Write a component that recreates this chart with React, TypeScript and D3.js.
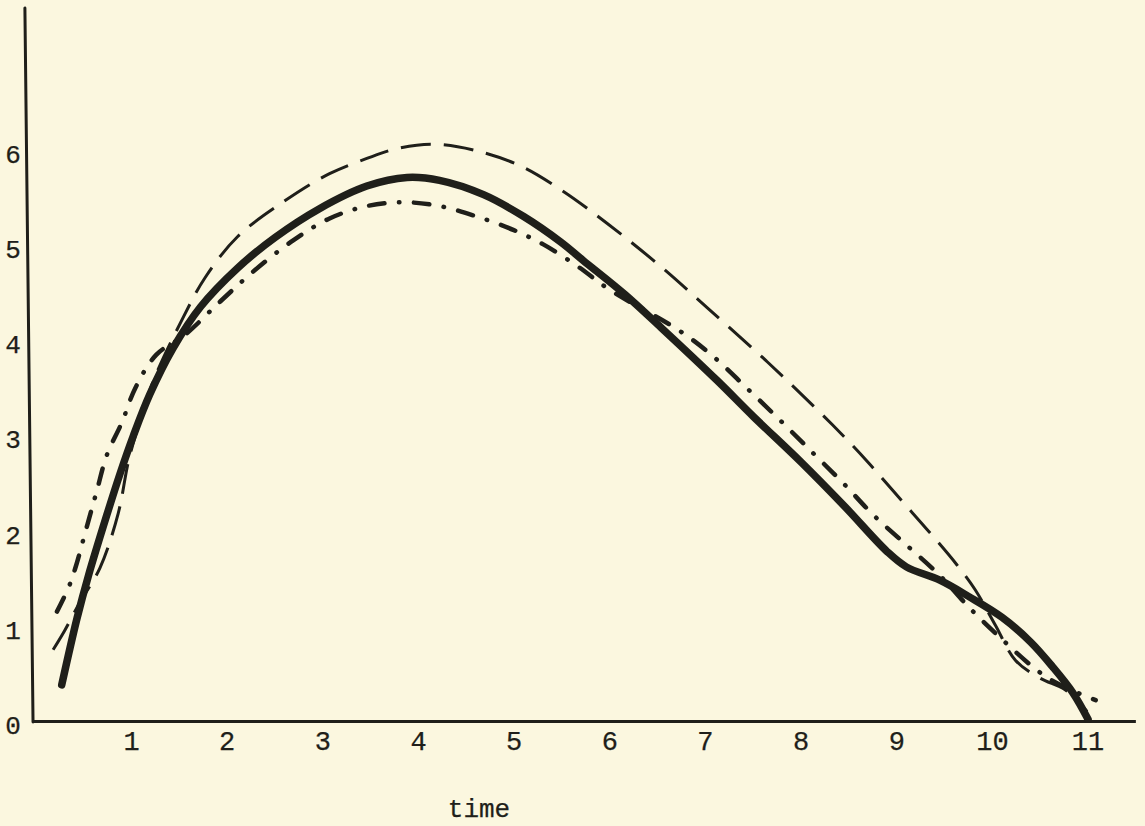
import React from "react";
import * as d3 from "d3";

const W = 1145;
const H = 826;

// tick labels
const xTicks = [1, 2, 3, 4, 5, 6, 7, 8, 9, 10, 11];
const yTicks = [0, 1, 2, 3, 4, 5, 6];
const xTitle = "time";

// solid (thick) curve
const solidT = [0.27, 0.43, 0.55, 0.74, 0.88, 1.02, 1.19, 1.43, 1.72, 2.11, 2.5, 2.96, 3.46, 3.88, 4.22, 4.68, 5.1, 5.49, 5.72, 6.16, 6.54, 7.12, 7.5, 8.0, 8.46, 8.9, 9.1, 9.45, 9.75, 10.1, 10.4, 10.63, 10.84, 11.0];
const solidV = [0.4, 1.1, 1.55, 2.18, 2.62, 3.02, 3.45, 3.93, 4.37, 4.78, 5.1, 5.4, 5.64, 5.73, 5.7, 5.55, 5.32, 5.05, 4.86, 4.5, 4.15, 3.6, 3.22, 2.74, 2.27, 1.8, 1.64, 1.5, 1.33, 1.11, 0.85, 0.59, 0.32, 0.04];

// long-dashed curve
const dashT = [0.18, 0.3, 0.45, 0.67, 0.86, 0.97, 1.09, 1.23, 1.54, 1.77, 2.11, 2.61, 3.07, 3.46, 3.76, 4.15, 4.61, 5.07, 5.49, 5.97, 6.55, 7.02, 7.64, 8.33, 8.69, 9.03, 9.38, 9.63, 9.82, 10.03, 10.24, 10.5, 10.76, 10.99];
const dashV = [0.77, 0.97, 1.25, 1.63, 2.2, 2.76, 3.18, 3.6, 4.26, 4.68, 5.11, 5.49, 5.77, 5.93, 6.03, 6.08, 6.01, 5.85, 5.6, 5.25, 4.78, 4.36, 3.8, 3.13, 2.75, 2.36, 1.96, 1.66, 1.4, 1.03, 0.66, 0.47, 0.35, 0.12];

// dash-dot curve
const dotT = [0.22, 0.34, 0.41, 0.54, 0.64, 0.74, 0.9, 1.04, 1.26, 1.55, 1.93, 2.27, 2.69, 3.07, 3.46, 3.84, 4.22, 4.61, 4.99, 5.3, 5.66, 6.0, 6.73, 7.07, 7.43, 7.78, 8.12, 8.44, 8.75, 9.09, 9.45, 9.77, 10.11, 10.41, 10.6, 10.86, 11.08];
const dotV = [1.17, 1.42, 1.62, 2.09, 2.45, 2.81, 3.16, 3.52, 3.87, 4.07, 4.43, 4.74, 5.07, 5.3, 5.43, 5.47, 5.43, 5.32, 5.18, 5.03, 4.8, 4.55, 4.12, 3.86, 3.52, 3.18, 2.84, 2.52, 2.19, 1.88, 1.55, 1.2, 0.87, 0.6, 0.46, 0.33, 0.24];

const x = d3.scaleLinear().domain([0, 11]).range([35.9, 35.9 + 11 * 95.65]);
const y = d3.scaleLinear().domain([0, 6]).range([723, 723 - 6 * 95.2]);

const line = d3
  .line<[number, number]>()
  .x((d) => x(d[0]))
  .y((d) => y(d[1]))
  .curve(d3.curveCatmullRom.alpha(0.5));

const zip = (t: number[], v: number[]) => t.map((ti, i) => [ti, v[i]] as [number, number]);

const INK = "#1f1f1a";
const FONT = "'Liberation Mono', 'DejaVu Sans Mono', monospace";

export default function App() {
  return (
    <svg
      width={W}
      height={H}
      style={{ position: "absolute", left: 0, top: 0, display: "block" }}
    >
      <rect x={0} y={0} width={W} height={H} fill="#fbf7df" />

      {/* axes */}
      <line x1={x(-0.115)} y1={y(7.51)} x2={x(-0.03)} y2={y(0) - 1} stroke={INK} strokeWidth={3} strokeLinecap="round" />
      <line x1={x(-0.03)} y1={y(0) - 1.5} x2={x(11.5)} y2={y(0) - 1.5} stroke={INK} strokeWidth={3} />

      {/* y tick labels */}
      {yTicks.map((v) => (
        <text
          key={"y" + v}
          x={13}
          y={y(v) + 4}
          textAnchor="middle"
          dominantBaseline="central"
          fontFamily={FONT}
          fontSize={26}
          fill={INK}
          stroke={INK}
          strokeWidth={0.25}
        >
          {v}
        </text>
      ))}

      {/* x tick labels */}
      {xTicks.map((t) => (
        <text
          key={"x" + t}
          x={x(t)}
          y={y(0) + 20}
          textAnchor="middle"
          dominantBaseline="central"
          fontFamily={FONT}
          fontSize={27}
          fill={INK}
          stroke={INK}
          strokeWidth={0.25}
        >
          {t}
        </text>
      ))}

      <text
        x={479}
        y={810}
        textAnchor="middle"
        dominantBaseline="central"
        fontFamily={FONT}
        fontSize={26}
        fill={INK}
        stroke={INK}
        strokeWidth={0.25}
      >
        {xTitle}
      </text>

      {/* curves */}
      <path
        d={line(zip(dashT, dashV)) || ""}
        fill="none"
        stroke={INK}
        strokeWidth={3}
        strokeDasharray="30 13"
      />
      <path
        d={line(zip(dotT, dotV)) || ""}
        fill="none"
        stroke={INK}
        strokeWidth={4.5}
        strokeLinecap="round"
        strokeDasharray="15.5 14.5 0.5 14.5"
      />
      <path
        d={line(zip(solidT, solidV)) || ""}
        fill="none"
        stroke={INK}
        strokeWidth={7.5}
        strokeLinecap="round"
        strokeLinejoin="round"
      />
    </svg>
  );
}
